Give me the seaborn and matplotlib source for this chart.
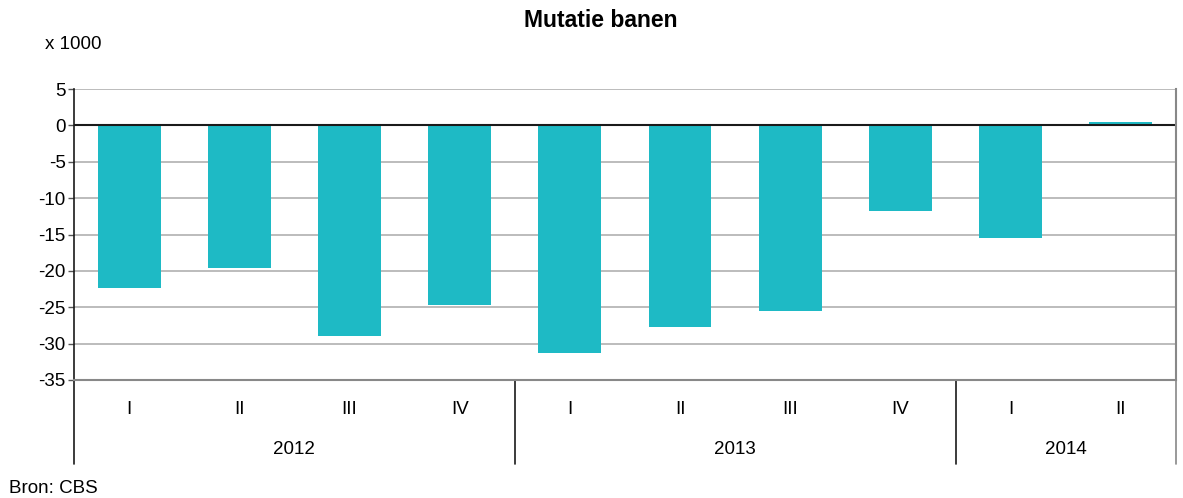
import matplotlib
matplotlib.use("Agg")
import matplotlib.pyplot as plt
import matplotlib.transforms as mtransforms
import seaborn as sns
import pandas as pd

years = ["2012", "2013", "2014"]
quarters_per_year = [["I", "II", "III", "IV"], ["I", "II", "III", "IV"], ["I", "II"]]
values = [-22.4, -19.6, -29.0, -24.7, -31.3, -27.7, -25.5, -11.8, -15.5, 0.5]
yticks = [5, 0, -5, -10, -15, -20, -25, -30, -35]

periods, qlabels = [], []
for y, qs in zip(years, quarters_per_year):
    for q in qs:
        periods.append(f"{y}-{q}")
        qlabels.append(q)
df = pd.DataFrame({"period": periods, "value": values})

sns.set_theme(style="white")
plt.rcParams["font.family"] = ["Liberation Sans", "DejaVu Sans"]
plt.rcParams["text.color"] = "black"
plt.rcParams["xtick.color"] = "black"
plt.rcParams["ytick.color"] = "black"

FS = 13.5
fig = plt.figure(figsize=(11.83, 4.98), dpi=100)
ax = fig.add_axes([0.0626, 0.237, 0.9314, 0.584])
sns.barplot(data=df, x="period", y="value", order=periods, color="#1EBAC5",
            saturation=1, width=0.57, linewidth=0, ax=ax)
ax.set_ylim(-35, 5)
ax.set_xlim(-0.5, len(periods) - 0.5)
ax.set_yticks(yticks)
ax.set_yticklabels([str(t) for t in yticks], fontsize=FS)
for t in yticks:
    if t == 0:
        continue
    ax.axhline(t, color="#B0B0B0", lw=1.2, zorder=0)
ax.axhline(0, color="#1a1a1a", lw=1.5, zorder=1)
ax.set_xticks(range(len(periods)))
ax.set_xticklabels(qlabels, fontsize=FS)
ax.tick_params(axis="x", length=0, pad=15)
ax.tick_params(axis="y", length=4, width=1, color="#555555", left=True, pad=2)
ax.set_xlabel("")
ax.set_ylabel("")
ax.spines["top"].set_visible(False)
ax.spines["left"].set_color("#1a1a1a")
ax.spines["left"].set_linewidth(1.2)
ax.spines["bottom"].set_color("#888888")
ax.spines["bottom"].set_linewidth(1.5)
ax.spines["right"].set_color("#888888")
ax.spines["right"].set_linewidth(1.5)

trans = mtransforms.blended_transform_factory(ax.transData, ax.transAxes)
start = 0
bounds = [-0.5]
for y, qs in zip(years, quarters_per_year):
    end = start + len(qs)
    bounds.append(end - 0.5)
    ax.text((start + end - 1) / 2, -0.24, y, transform=trans, ha="center", va="center", fontsize=FS)
    start = end
for i, b in enumerate(bounds):
    col = "#888888" if i == len(bounds) - 1 else "#1a1a1a"
    ax.plot([b, b], [0, -0.29], transform=trans, color=col, lw=1.2, clip_on=False)

fig.text(0.508, 0.958, "Mutatie banen", ha="center", va="center", fontsize=16.5, fontweight="bold")
fig.text(0.038, 0.91, "x 1000", ha="left", va="center", fontsize=FS)
fig.text(0.008, 0.02, "Bron: CBS", ha="left", va="center", fontsize=FS)

fig.savefig("out.png", dpi=100)
